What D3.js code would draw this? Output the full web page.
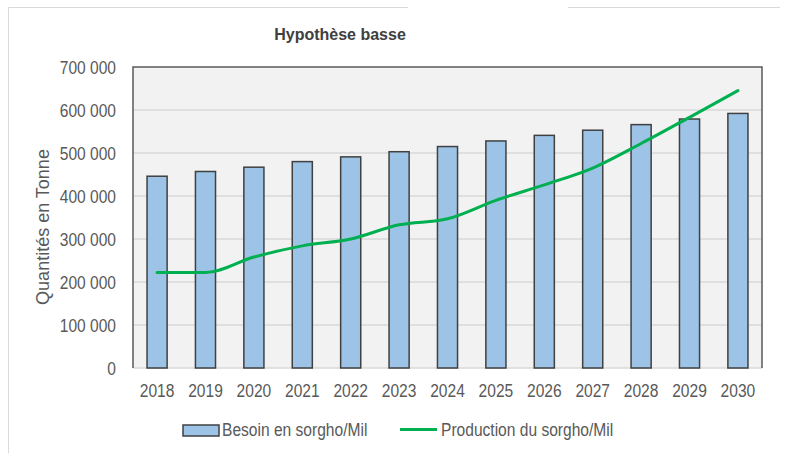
<!DOCTYPE html>
<html>
<head>
<meta charset="utf-8">
<script src="https://cdn.jsdelivr.net/npm/d3@7"></script>
<style>
  html, body { margin: 0; padding: 0; background: #ffffff; }
  svg { display: block; font-family: "Liberation Sans", Arial, sans-serif; }
</style>
</head>
<body>
<svg id="chart" width="785" height="455"></svg>
<script>
const years = ["2018","2019","2020","2021","2022","2023","2024","2025","2026","2027","2028","2029","2030"];
const besoin = [446000, 457000, 467000, 480000, 491000, 503000, 515000, 528000, 541000, 553000, 566000, 579000, 592000];
const production = [222000, 222000, 258000, 284000, 300000, 333000, 347000, 390000, 426000, 465000, 522000, 583000, 645000];
const yTicks = [0, 100000, 200000, 300000, 400000, 500000, 600000, 700000];
const title = "Hypothèse basse";
const yTitle = "Quantités en Tonne";
const legendLabels = ["Besoin en sorgho/Mil", "Production du sorgho/Mil"];

const svg = d3.select("#chart");
const plot = { left: 133, right: 762, top: 67, bottom: 368 };
const NARROW = 0.82;
const fmt = v => v === 0 ? "0" : d3.format(",")(v).replace(/,/g, " ");

// outer frame (top and left edges)
svg.append("path")
  .attr("d", "M8.5,453 L8.5,7.5 L408,7.5 M568,7.5 L780,7.5")
  .attr("fill", "none").attr("stroke", "#d9d9d9").attr("stroke-width", 1);

const x = d3.scaleBand().domain(years).range([plot.left, plot.right]).paddingInner(0.585).paddingOuter(0.29);
const y = d3.scaleLinear().domain([0, 700000]).range([plot.bottom, plot.top]);

// plot background
svg.append("rect")
  .attr("x", plot.left).attr("y", plot.top)
  .attr("width", plot.right - plot.left).attr("height", plot.bottom - plot.top)
  .attr("fill", "#f2f2f2");

// gridlines
svg.append("g").selectAll("line").data(yTicks.filter(t => t < 700000)).join("line")
  .attr("x1", plot.left).attr("x2", plot.right)
  .attr("y1", d => y(d)).attr("y2", d => y(d))
  .attr("stroke", "#d9d9d9").attr("stroke-width", 1.5);

// plot border (top, left, right)
svg.append("path")
  .attr("d", `M${plot.left},${plot.bottom} L${plot.left},${plot.top} L${plot.right},${plot.top} L${plot.right},${plot.bottom}`)
  .attr("fill", "none").attr("stroke", "#595959").attr("stroke-width", 1.5);

// bars
svg.append("g").selectAll("rect").data(years).join("rect")
  .attr("x", d => x(d))
  .attr("y", (d, i) => y(besoin[i]))
  .attr("width", x.bandwidth())
  .attr("height", (d, i) => y(0) - y(besoin[i]))
  .attr("fill", "#9dc3e6")
  .attr("stroke", "#404040").attr("stroke-width", 1.5);

// production line
const line = d3.line()
  .x((d, i) => x(years[i]) + x.bandwidth() / 2)
  .y(d => y(d))
  .curve(d3.curveMonotoneX);
svg.append("path").datum(production)
  .attr("d", line)
  .attr("fill", "none").attr("stroke", "#00b050").attr("stroke-width", 3)
  .attr("stroke-linecap", "round").attr("stroke-linejoin", "round");

// y tick labels
svg.append("g").selectAll("text").data(yTicks).join("text")
  .attr("transform", d => `translate(116,${y(d)}) scale(${NARROW},1)`)
  .attr("dy", "0.35em")
  .attr("text-anchor", "end")
  .attr("font-size", 19).attr("fill", "#595959")
  .text(d => fmt(d));

// x tick labels
svg.append("g").selectAll("text").data(years).join("text")
  .attr("transform", d => `translate(${x(d) + x.bandwidth() / 2},397) scale(${NARROW},1)`)
  .attr("text-anchor", "middle")
  .attr("font-size", 19).attr("fill", "#595959")
  .text(d => d);

// title
svg.append("text")
  .attr("x", 340).attr("y", 40)
  .attr("text-anchor", "middle")
  .attr("font-size", 16).attr("font-weight", "bold").attr("fill", "#404040")
  .text(title);

// y-axis title
svg.append("text")
  .attr("transform", "translate(49,227) rotate(-90)")
  .attr("text-anchor", "middle")
  .attr("font-size", 18).attr("fill", "#595959")
  .text(yTitle);

// legend
const lg = svg.append("g");
lg.append("rect").attr("x", 183).attr("y", 425).attr("width", 36).attr("height", 11)
  .attr("fill", "#9dc3e6").attr("stroke", "#404040").attr("stroke-width", 1.5);
lg.append("text")
  .attr("transform", `translate(222,436) scale(${NARROW},1)`)
  .attr("font-size", 19).attr("fill", "#595959")
  .text(legendLabels[0]);
lg.append("line").attr("x1", 400).attr("x2", 437).attr("y1", 429.5).attr("y2", 429.5)
  .attr("stroke", "#00b050").attr("stroke-width", 3);
lg.append("text")
  .attr("transform", `translate(441,436) scale(${NARROW},1)`)
  .attr("font-size", 19).attr("fill", "#595959")
  .text(legendLabels[1]);
</script>
</body>
</html>
